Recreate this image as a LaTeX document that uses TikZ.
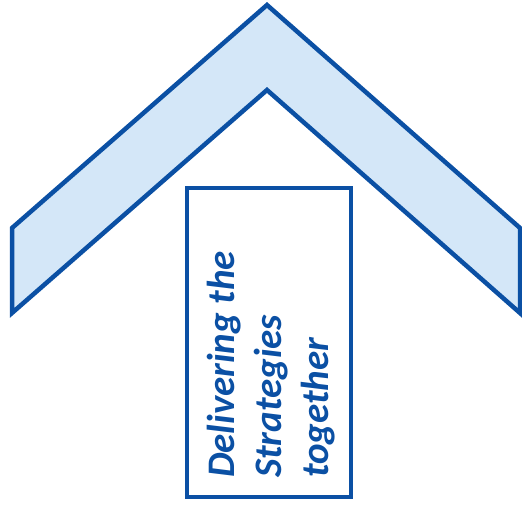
\documentclass[tikz,border=0pt]{standalone}
\usepackage{fontspec}
\newfontfamily\doorfont{Carlito}
\usepackage{tikz}
\usetikzlibrary{positioning}
\usepackage{xcolor}
\definecolor{roofline}{HTML}{0B50A4}
\definecolor{rooffill}{HTML}{D4E7F8}

\begin{document}
\begin{tikzpicture}[
    x=1pt, y=-1pt,
    roof/.style={draw=roofline, fill=rooffill, line width=4.5pt},
    door/.style={draw=roofline, line width=4.5pt, minimum width=164pt, minimum height=309pt, inner sep=0pt},
    label/.style={text=roofline, font=\doorfont\bfseries\itshape\fontsize{39}{47}\selectfont, align=left, inner sep=0pt, rotate=90}
  ]
  \useasboundingbox (0,0) rectangle (522,510);

  % Roof
  \draw[roof] (12,228) -- (267,5) -- (520,228) -- (520,313) -- (267,90) -- (12,313) -- cycle;

  % Door
  \node[door] (box) at (269,342.5) {};

  % Text (base = last line)
  \node[label, anchor=base west] (txt) at (328,478) {Delivering the\\Strategies\\together};
\end{tikzpicture}
\end{document}
